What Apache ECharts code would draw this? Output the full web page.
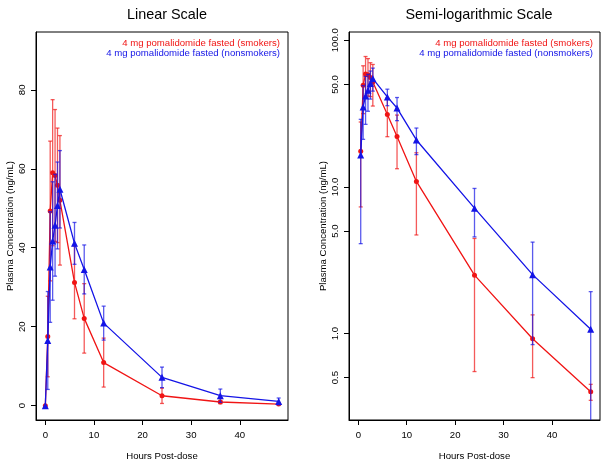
<!DOCTYPE html>
<html><head><meta charset="utf-8">
<script src="https://cdn.jsdelivr.net/npm/echarts@6/dist/echarts.min.js"></script>
<style>html,body{margin:0;padding:0;background:#fff}#c{width:602px;height:460px}</style>
</head><body><div id="c"></div>
<script>
const hours = [0, 0.5, 1, 1.5, 2, 2.5, 3, 6, 8, 12, 24, 36, 48];
const smokersMean = [0, 17.5, 49.3, 59.0, 58.3, 55.8, 52.0, 31.2, 22.1, 10.9, 2.5, 0.92, 0.40];
const smokersSD = [0, 10.2, 17.7, 18.5, 16.7, 14.5, 16.4, 9.2, 8.8, 6.2, 1.95, 0.42, 0.05];
const nonsmokersMean = [0, 16.5, 35.1, 41.7, 45.7, 50.7, 54.8, 41.1, 34.5, 20.9, 7.16, 2.52, 1.07];
const nonsmokersSD = [0, 12.4, 14.0, 15.0, 12.9, 11.0, 9.8, 5.3, 6.2, 4.3, 2.6, 1.68, 0.86];
const xTicks = [0, 10, 20, 30, 40];
const linTicks = [0, 20, 40, 60, 80];
const logTicks = [0.5, 1, 5, 10, 50, 100];
const seriesNames = ['4 mg pomalidomide fasted (smokers)', '4 mg pomalidomide fasted (nonsmokers)'];
const panelTitles = ['Linear Scale', 'Semi-logarithmic Scale'];
const xName = 'Hours Post-dose';
const yName = 'Plasma Concentration (ng/mL)';

const RED = '#f01414', BLUE = '#1414e6';
const RED_BAR = 'rgba(240,20,20,0.7)', BLUE_BAR = 'rgba(20,20,230,0.7)';
const FONT = 'Liberation Sans, Arial, sans-serif';

function pts(means, logScale) {
  const out = [];
  hours.forEach((h, i) => { if (!logScale || means[i] > 0) out.push([h, means[i]]); });
  return out;
}
function bars(means, sds, logScale) {
  const out = [];
  hours.forEach((h, i) => {
    if (sds[i] > 0 && means[i] > 0) {
      let lo = means[i] - sds[i];
      if (logScale && lo <= 0) lo = 1e-3;
      out.push([h, lo, means[i] + sds[i]]);
    }
  });
  return out;
}
function errRender(color) {
  return function (params, api) {
    const x = api.value(0), lo = api.value(1), hi = api.value(2);
    const p1 = api.coord([x, hi]), p2 = api.coord([x, lo]);
    const w = 2;
    const style = { stroke: color, lineWidth: 1.3, fill: null };
    return { type: 'group', children: [
      { type: 'line', shape: { x1: p1[0], y1: p1[1], x2: p2[0], y2: p2[1] }, style },
      { type: 'line', shape: { x1: p1[0] - w, y1: p1[1], x2: p1[0] + w, y2: p1[1] }, style },
      { type: 'line', shape: { x1: p2[0] - w, y1: p2[1], x2: p2[0] + w, y2: p2[1] }, style }
    ]};
  };
}

const grids = [
  { left: 36, top: 32, width: 252, height: 388 },
  { left: 349, top: 32, width: 251, height: 388 }
];

const axisLineStyle = { show: true, onZero: false, lineStyle: { color: '#000', width: 1 } };

function xAxisFor(gi) {
  return {
    type: 'value', gridIndex: gi, min: -1.92, max: 49.92, position: 'bottom',
    axisLine: axisLineStyle, splitLine: { show: false },
    axisTick: { show: true, inside: false, length: 5, customValues: xTicks, lineStyle: { color: '#000', width: 1 } },
    axisLabel: { customValues: xTicks, color: '#000', fontSize: 9.6, fontFamily: FONT, margin: 10.5 },
    name: xName, nameLocation: 'middle', nameGap: 31,
    nameTextStyle: { color: '#000', fontSize: 9.6, fontFamily: FONT }
  };
}

const option = {
  animation: false,
  backgroundColor: '#fff',
  title: [
    { text: panelTitles[0], left: 162, top: 3, textAlign: 'center',
      textStyle: { fontSize: 14.4, fontWeight: 'normal', color: '#000', fontFamily: FONT } },
    { text: panelTitles[1], left: 474, top: 3, textAlign: 'center',
      textStyle: { fontSize: 14.4, fontWeight: 'normal', color: '#000', fontFamily: FONT } }
  ],
  grid: grids.map(g => Object.assign({ show: true, borderColor: '#000', borderWidth: 1, backgroundColor: 'transparent',
    containLabel: false, outerBoundsMode: 'none' }, g)),
  xAxis: [xAxisFor(0), xAxisFor(1)],
  yAxis: [
    { type: 'value', gridIndex: 0, min: -3.64, max: 94.64, position: 'left',
      axisLine: axisLineStyle, splitLine: { show: false },
      axisTick: { show: true, inside: false, length: 5, customValues: linTicks, lineStyle: { color: '#000', width: 1 } },
      axisLabel: { customValues: linTicks, rotate: 90, color: '#000', fontSize: 9.6, fontFamily: FONT, margin: 9 },
      name: yName, nameLocation: 'middle', nameGap: 21, nameRotate: 90,
      nameTextStyle: { color: '#000', fontSize: 9.6, fontFamily: FONT } },
    { type: 'log', logBase: 10, gridIndex: 1, min: 0.257, max: 113.9, position: 'left',
      axisLine: axisLineStyle, splitLine: { show: false }, minorTick: { show: false },
      axisTick: { show: true, inside: false, length: 5, customValues: logTicks, lineStyle: { color: '#000', width: 1 } },
      axisLabel: { customValues: logTicks, rotate: 90, color: '#000', fontSize: 9.6, fontFamily: FONT, margin: 9,
        formatter: v => Number(v).toFixed(1) },
      name: yName, nameLocation: 'middle', nameGap: 21, nameRotate: 90,
      nameTextStyle: { color: '#000', fontSize: 9.6, fontFamily: FONT } }
  ],
  series: [],
  graphic: []
};

[0, 1].forEach(gi => {
  const logScale = gi === 1;
  option.series.push(
    { type: 'custom', xAxisIndex: gi, yAxisIndex: gi, clip: true, renderItem: errRender(RED_BAR), data: bars(smokersMean, smokersSD, logScale), z: 2 },
    { type: 'line', xAxisIndex: gi, yAxisIndex: gi, data: pts(smokersMean, logScale), symbol: 'circle', symbolSize: 5,
      lineStyle: { color: RED, width: 1.3 }, itemStyle: { color: RED }, z: 3 },
    { type: 'custom', xAxisIndex: gi, yAxisIndex: gi, clip: true, renderItem: errRender(BLUE_BAR), data: bars(nonsmokersMean, nonsmokersSD, logScale), z: 4 },
    { type: 'line', xAxisIndex: gi, yAxisIndex: gi, data: pts(nonsmokersMean, logScale), symbol: 'triangle', symbolSize: 7,
      lineStyle: { color: BLUE, width: 1.3 }, itemStyle: { color: BLUE }, z: 5 }
  );
  const rightEdge = gi === 0 ? 280 : 593;
  option.graphic.push(
    { type: 'text', x: rightEdge, y: 43, style: { text: seriesNames[0], fill: RED, font: '9.6px ' + FONT, textAlign: 'right', textVerticalAlign: 'middle' } },
    { type: 'text', x: rightEdge, y: 53, style: { text: seriesNames[1], fill: BLUE, font: '9.6px ' + FONT, textAlign: 'right', textVerticalAlign: 'middle' } }
  );
});

const chart = echarts.init(document.getElementById('c'), null, { renderer: 'canvas' });
chart.setOption(option);
</script>
</body></html>
